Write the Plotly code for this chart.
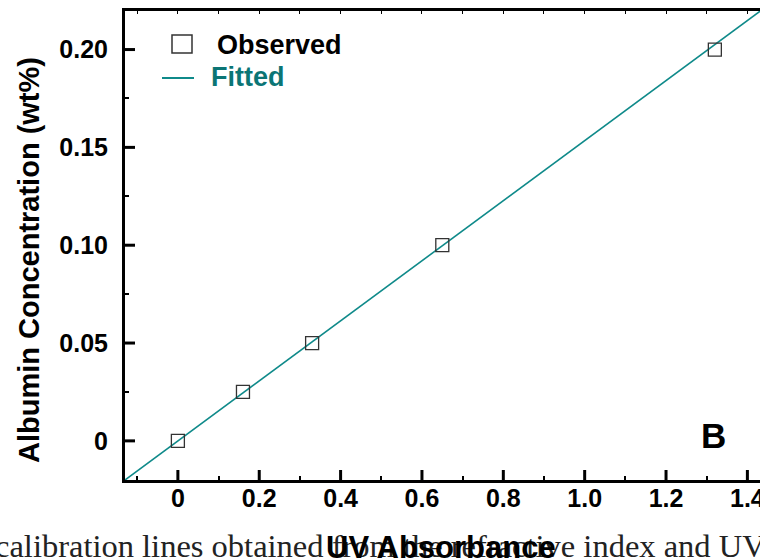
import plotly.graph_objects as go

# Observed data
obs_x = [0.0, 0.16, 0.33, 0.65, 1.32]
obs_y = [0.0, 0.025, 0.05, 0.10, 0.20]

# Fitted line (two end points)
fit_x = [-0.13, 1.45]
fit_y = [-0.02, 0.2225]

x_ticks = [0, 0.2, 0.4, 0.6, 0.8, 1.0, 1.2, 1.4]
x_ticktext = ["0", "0.2", "0.4", "0.6", "0.8", "1.0", "1.2", "1.4"]
x_minor = [-0.1, 0.1, 0.3, 0.5, 0.7, 0.9, 1.1, 1.3]
x_top = [-0.1, 0.0, 0.1, 0.2, 0.3, 0.4, 0.5, 0.6, 0.7, 0.8, 0.9, 1.0, 1.1, 1.2, 1.3, 1.4]
y_ticks = [0, 0.05, 0.10, 0.15, 0.20]
y_ticktext = ["0", "0.05", "0.10", "0.15", "0.20"]
y_minor = [-0.025, 0.025, 0.075, 0.125, 0.175]

X_RANGE = [-0.13, 1.431]
Y_RANGE = [-0.02, 0.2197]

TEAL = "#0f8a8a"
FONT = "Liberation Sans, Arial, sans-serif"
PLOT_W, PLOT_H = 635, 469

fig = go.Figure()
fig.add_trace(go.Scatter(x=fit_x, y=fit_y, mode="lines",
                         line=dict(color=TEAL, width=1.6), showlegend=False,
                         cliponaxis=True))
fig.add_trace(go.Scatter(x=obs_x, y=obs_y, mode="markers",
                         marker=dict(symbol="square-open", size=13,
                                     color="#333333", line=dict(width=1.3)),
                         showlegend=False, cliponaxis=False))

tickfont = dict(family=FONT, size=25, color="black", weight="bold")
tick_only = dict(showticklabels=False, showline=False, showgrid=False,
                 zeroline=False, tickcolor="black", ticks="inside", tickmode="array")

fig.update_layout(
    xaxis=dict(range=X_RANGE, tickmode="array", tickvals=x_ticks, ticktext=x_ticktext,
               ticks="", showline=True, linecolor="black", linewidth=3, mirror=True,
               showgrid=False, zeroline=False, ticklabeloverflow="allow",
               ticklabelstandoff=-6, tickfont=tickfont),
    yaxis=dict(range=Y_RANGE, tickmode="array", tickvals=y_ticks, ticktext=y_ticktext,
               ticks="", showline=True, linecolor="black", linewidth=3, mirror=False,
               showgrid=False, zeroline=False, ticklabelstandoff=9, tickfont=tickfont),
    # minor tick marks
    xaxis3=dict(overlaying="x", matches="x", range=X_RANGE, tickvals=x_minor,
                ticklen=4, tickwidth=1.5, anchor="y3", **tick_only),
    yaxis3=dict(overlaying="y", matches="y", range=Y_RANGE, tickvals=y_minor,
                ticklen=4, tickwidth=1.5, anchor="x3", **tick_only),
    # small ticks along the top edge
    xaxis4=dict(overlaying="x", matches="x", range=X_RANGE, tickvals=x_top,
                ticklen=3, tickwidth=1.2, side="top", anchor="y3", **tick_only),
)
for xa, ya in [("x3", "y3"), ("x4", "y3")]:
    fig.add_trace(go.Scatter(x=[obs_x[0]], y=[obs_y[0]], xaxis=xa, yaxis=ya,
                             mode="markers", marker=dict(opacity=0), showlegend=False,
                             hoverinfo="skip"))

# major tick marks, placed at the tick values
for v in x_ticks:
    fig.add_shape(type="line", xref="x", yref="paper", x0=v, x1=v,
                  y0=0, y1=10 / PLOT_H, layer="above",
                  line=dict(color="black", width=3))
for v in y_ticks:
    fig.add_shape(type="line", xref="paper", yref="y", y0=v, y1=v,
                  x0=0, x1=10 / PLOT_W, layer="above",
                  line=dict(color="black", width=3))

# legend (manual)
fig.add_shape(type="rect", xref="paper", yref="paper",
              x0=(172 - 125) / PLOT_W, x1=(192 - 125) / PLOT_W,
              y0=(480 - 53) / PLOT_H, y1=(480 - 35) / PLOT_H,
              line=dict(color="#333333", width=1.5))
fig.add_shape(type="line", xref="paper", yref="paper",
              x0=(162 - 125) / PLOT_W, x1=(194 - 125) / PLOT_W,
              y0=(480 - 78) / PLOT_H, y1=(480 - 78) / PLOT_H,
              line=dict(color=TEAL, width=2))

annotations = [
    dict(text="Observed", x=215, y=45, color="black"),
    dict(text="Fitted", x=209, y=77, color="#0b7575"),
]
for a in annotations:
    fig.add_annotation(text=a["text"], xref="paper", yref="paper",
                       x=(a["x"] - 125) / PLOT_W, y=(480 - a["y"]) / PLOT_H,
                       xanchor="left", yanchor="middle", showarrow=False,
                       font=dict(family=FONT, size=27, color=a["color"], weight="bold"))

fig.add_annotation(text="B", xref="paper", yref="paper",
                   x=(713 - 125) / PLOT_W, y=(480 - 435) / PLOT_H,
                   xanchor="center", yanchor="middle", showarrow=False,
                   font=dict(family=FONT, size=35, color="black", weight="bold"))

# caption (underneath)
fig.add_annotation(text="calibration lines obtained from the refractive index and UV",
                   xref="paper", yref="paper",
                   x=(-7 - 125) / PLOT_W, y=(480 - 546) / PLOT_H,
                   xanchor="left", yanchor="middle", showarrow=False,
                   font=dict(family="Liberation Serif, Times New Roman, serif",
                             size=32.5, color="#222222"))
# axis titles
fig.add_annotation(text="UV Absorbance", xref="paper", yref="paper",
                   x=(441 - 125) / PLOT_W, y=(480 - 547) / PLOT_H,
                   xanchor="center", yanchor="middle", showarrow=False,
                   font=dict(family=FONT, size=31, color="black", weight="bold"))
fig.add_annotation(text="Albumin Concentration (wt%)", xref="paper", yref="paper",
                   x=(29 - 125) / PLOT_W, y=(480 - 260) / PLOT_H, textangle=-90,
                   xanchor="center", yanchor="middle", showarrow=False,
                   font=dict(family=FONT, size=29, color="black", weight="bold"))

fig.update_layout(width=760, height=558,
                  margin=dict(l=125, r=0, t=11, b=78, autoexpand=False),
                  paper_bgcolor="white", plot_bgcolor="white",
                  showlegend=False)

fig.write_html("out.html")
